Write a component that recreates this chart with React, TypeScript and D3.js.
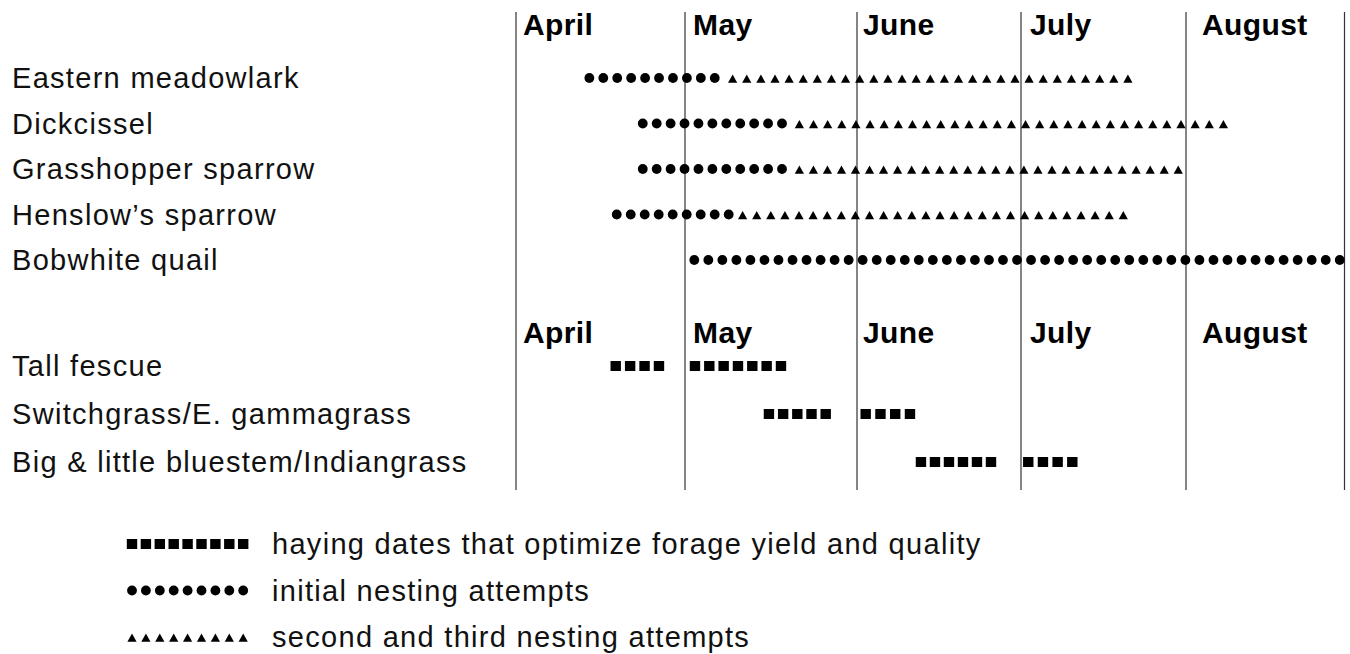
import * as d3 from 'd3';

// months across the top; positions below are in month units (0 = 1 April)
const months = ['April', 'May', 'June', 'July', 'August'];

const birds = [
  'Eastern meadowlark',
  'Dickcissel',
  'Grasshopper sparrow',
  'Henslow\u2019s sparrow',
  'Bobwhite quail',
];

const grasses = [
  'Tall fescue',
  'Switchgrass/E. gammagrass',
  'Big & little bluestem/Indiangrass',
];

// [from, to, number of marks]
const initialNesting: [number, number, number][] = [
  [0.434, 1.173, 10],
  [0.75, 1.564, 11],
  [0.75, 1.564, 11],
  [0.596, 1.254, 9],
  [1.054, 4.97, 47],
];

const laterNesting: ([number, number, number] | null)[] = [
  [1.277, 3.648, 29],
  [1.665, 4.236, 31],
  [1.665, 3.953, 28],
  [1.335, 3.62, 28],
  null,
];

const hayingWindows: [number, number, number][][] = [
  [[0.59, 0.846, 4], [1.058, 1.558, 7]],
  [[1.488, 1.818, 5], [2.053, 2.323, 4]],
  [[2.39, 2.817, 6], [3.044, 3.311, 4]],
];

const legendItems = [
  { kind: 'square', label: 'haying dates that optimize forage yield and quality' },
  { kind: 'dot', label: 'initial nesting attempts' },
  { kind: 'triangle', label: 'second and third nesting attempts' },
];

const W = 1350;
const H = 654;
const left = 516;
const monthWidths = [169, 172, 164, 165, 158.5];
const labelNudge = [7, 8, 6, 9, 16];
const edges = monthWidths.reduce((acc, w) => [...acc, acc[acc.length - 1] + w], [left]);

const x = d3.scaleLinear().domain(d3.range(months.length + 1)).range(edges);
const yBird = d3.scalePoint<string>().domain(birds).range([78, 260]);
const yGrass = d3.scalePoint<string>().domain(grasses).range([366, 462]);
const yLegend = d3.scalePoint<string>().domain(legendItems.map(d => d.label)).range([544, 637]);

const spread = ([a, b, n]: [number, number, number]) => {
  const x0 = x(a), x1 = x(b);
  return d3.range(n).map(i => x0 + ((x1 - x0) * i) / (n - 1));
};

const font = '"Liberation Sans", Arial, Helvetica, sans-serif';

function Mark({ kind, cx, cy }: { kind: string; cx: number; cy: number }) {
  if (kind === 'dot') return <circle cx={cx} cy={cy} r={4.9} fill="#000" />;
  if (kind === 'square') return <rect x={cx - 5.2} y={cy - 5} width={10.4} height={10} fill="#000" />;
  const w = 9.2, h = 8.2, c = cy + 0.6;
  return <path d={`M${cx - w / 2},${c + h / 2}L${cx + w / 2},${c + h / 2}L${cx},${c - h / 2}Z`} fill="#000" />;
}

export default function App() {
  const labelStyle = { fontFamily: font, fontSize: 29, letterSpacing: 1.3, fill: '#111' };
  const headStyle = { fontFamily: font, fontSize: 30, fontWeight: 700, letterSpacing: 0.4, fill: '#000' };

  return (
    <>
      <style>{'body{margin:0}'}</style>
      <svg width={W} height={H} style={{ display: 'block', background: '#fff' }}>
        {/* month dividers */}
        {edges.map((e, i) => (
          <line key={i} x1={e} x2={e} y1={12} y2={490} stroke="#333" strokeWidth={1.2} />
        ))}

        {/* month headers, twice */}
        {[35, 343].map(base =>
          months.map((m, i) => (
            <text key={`${base}-${m}`} x={x(i) + labelNudge[i]} y={base} style={headStyle}>
              {m}
            </text>
          ))
        )}

        {/* bird rows */}
        {birds.map((b, i) => {
          const cy = yBird(b)!;
          const later = laterNesting[i];
          return (
            <g key={b}>
              <text x={12} y={cy + 10} style={labelStyle}>{b}</text>
              {spread(initialNesting[i]).map((cx, j) => (
                <Mark key={`d${j}`} kind="dot" cx={cx} cy={cy} />
              ))}
              {later && spread(later).map((cx, j) => (
                <Mark key={`t${j}`} kind="triangle" cx={cx} cy={cy} />
              ))}
            </g>
          );
        })}

        {/* grass rows */}
        {grasses.map((g, i) => {
          const cy = yGrass(g)!;
          return (
            <g key={g}>
              <text x={12} y={cy + 10} style={labelStyle}>{g}</text>
              {hayingWindows[i].flatMap((seg, k) =>
                spread(seg).map((cx, j) => <Mark key={`${k}-${j}`} kind="square" cx={cx} cy={cy} />)
              )}
            </g>
          );
        })}

        {/* legend */}
        {legendItems.map(item => {
          const cy = yLegend(item.label)!;
          return (
            <g key={item.label}>
              {d3.range(9).map(j => (
                <Mark key={j} kind={item.kind} cx={132 + j * 13.9} cy={cy} />
              ))}
              <text x={272} y={cy + 10} style={labelStyle}>{item.label}</text>
            </g>
          );
        })}
      </svg>
    </>
  );
}
